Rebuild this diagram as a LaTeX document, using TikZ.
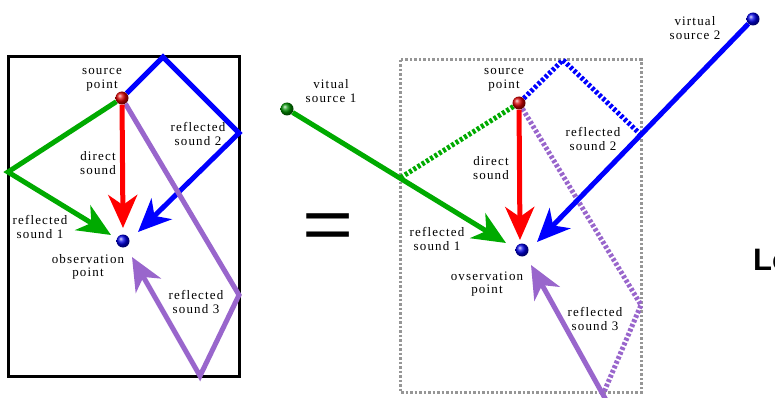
\documentclass[tikz,border=0pt]{standalone}
\usepackage{fontspec}
\setmainfont{Liberation Serif}
\newfontfamily\lblfont[LetterSpace=9]{Liberation Serif}
\newfontfamily\bigsans{Liberation Sans}
\usetikzlibrary{arrows.meta}

\definecolor{raygreen}{RGB}{0,170,0}
\definecolor{rayblue}{RGB}{0,0,255}
\definecolor{rayred}{RGB}{255,0,0}
\definecolor{raypurple}{RGB}{153,102,204}
\definecolor{boxgray}{RGB}{150,150,150}

\tikzset{
  lbl/.style={font=\lblfont\fontsize{13}{13.5}\selectfont, align=center, inner sep=0pt},
  ball/.style={circle, minimum size=13pt, inner sep=0pt},
  ray/.style={line width=5pt},
  tipped/.style={-{Stealth[length=33pt,width=29pt,inset=10pt]}},
  dotray/.style={line width=5pt, dash pattern=on 3pt off 2pt},
}

\begin{document}
\begin{tikzpicture}[x=1pt,y=-1pt]
\useasboundingbox (0,0) rectangle (775,398);

% ---------- left: real room ----------
\draw[line width=3pt] (8,57) rectangle (239,376);

\node[ball, ball color=red!85!black] (srcL) at (122,98) {};
\node[ball, ball color=blue!90!black] (obsL) at (123,241) {};

\coordinate (gL1) at (8,172);
\coordinate (bL1) at (163,57);
\coordinate (bL2) at (239,133);
\coordinate (pL1) at (239,295);
\coordinate (pL2) at (200,376);
\coordinate (tipRL) at (123,228);
\coordinate (tipGL) at (111,235);
\coordinate (tipBL) at (138,232);
\coordinate (tipPL) at (132,257);

\draw[ray, raygreen, tipped] (srcL) -- (gL1) -- (tipGL);
\draw[ray, rayblue, tipped] (srcL) -- (bL1) -- (bL2) -- (tipBL);
\draw[ray, raypurple, tipped] (srcL) -- (pL1) -- (pL2) -- (tipPL);
\draw[ray, rayred, tipped] (srcL) -- (tipRL);

\node[lbl] (lsrcL) at (102,80) {source\\point};
\node[lbl] (ldirL) at (98,163) {direct\\sound};
\node[lbl] (lr2L) at (198,134) {reflected\\sound 2};
\node[lbl] (lr1L) at (40,227) {reflected\\sound 1};
\node[lbl] (lobsL) at (88,267) {observation\\point};
\node[lbl] (lr3L) at (196,302) {reflected\\sound 3};

% ---------- equals sign ----------
\node[font=\bigsans\fontsize{73}{73}\selectfont, xscale=1.2, inner sep=0pt] (eq) at (328,232) {=};

% ---------- right: virtual sources ----------
\draw[line width=3pt, boxgray, dash pattern=on 2.5pt off 2pt] (400,60) rectangle (641,392);

\node[ball, ball color=red!85!black] (srcR) at (519,103) {};
\node[ball, ball color=blue!90!black] (obsR) at (522,250) {};
\node[ball, ball color=raygreen!85!black] (vs1) at (287,109) {};
\node[ball, ball color=blue!90!black] (vs2) at (753,19) {};

\coordinate (gR1) at (400,178);
\coordinate (bR1) at (563,60);
\coordinate (bR2) at (641,135);
\coordinate (pR1) at (641,305);
\coordinate (pR2) at (604,392);
\coordinate (vs3) at (606,400);
\coordinate (tipRR) at (520,240);
\coordinate (tipGR) at (506,243);
\coordinate (tipBR) at (537,242);
\coordinate (tipPR) at (531,265);

\draw[dotray, raygreen] (srcR) -- (gR1);
\draw[dotray, rayblue] (srcR) -- (bR1) -- (bR2);
\draw[dotray, raypurple] (srcR) -- (pR1) -- (pR2);

\draw[ray, raygreen, tipped] (vs1) -- (tipGR);
\draw[ray, rayblue, tipped] (vs2) -- (tipBR);
\draw[ray, raypurple, tipped] (vs3) -- (tipPR);
\draw[ray, rayred, tipped] (srcR) -- (tipRR);

\node[lbl] (lsrcR) at (504,80) {source\\point};
\node[lbl] (ldirR) at (491,168) {direct\\sound};
\node[lbl] (lr2R) at (593,139) {reflected\\sound 2};
\node[lbl] (lr1R) at (437,239) {reflected\\sound 1};
\node[lbl] (lobsR) at (487,284) {ovservation\\point};
\node[lbl] (lr3R) at (595,319) {reflected\\sound 3};
\node[lbl] (lvs1) at (331,91) {vitual\\source 1};
\node[lbl] (lvs2) at (695,28) {virtual\\source 2};

% ---------- partial heading at the right edge ----------
\node[font=\bigsans\bfseries\fontsize{31}{31}\selectfont, anchor=base west, inner sep=0pt] (lo) at (753,270) {Lo};
\end{tikzpicture}
\end{document}
